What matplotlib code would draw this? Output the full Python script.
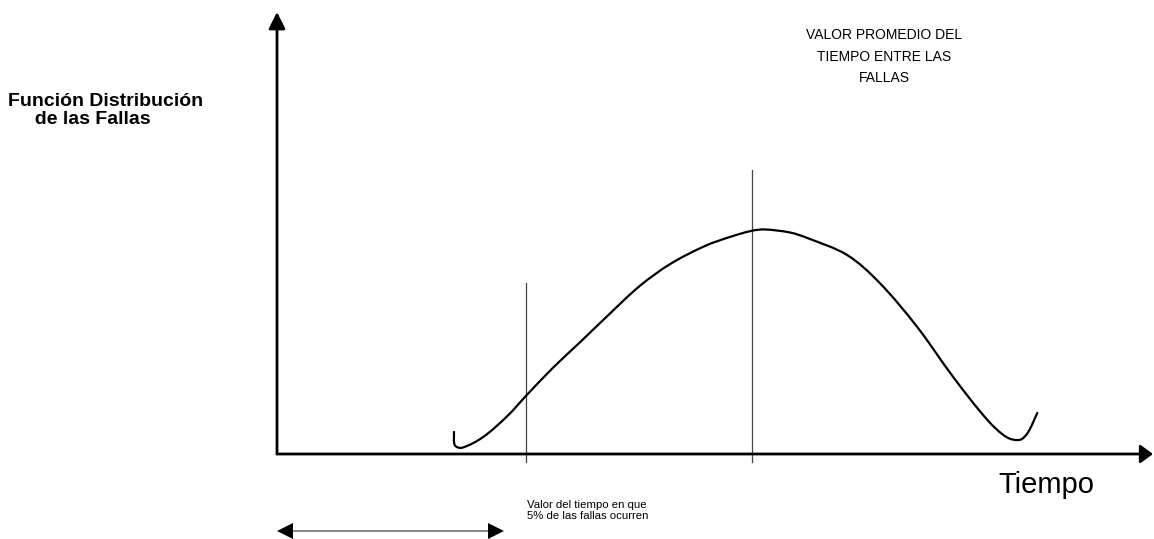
import matplotlib
matplotlib.use("Agg")
import matplotlib.pyplot as plt
import numpy as np
from matplotlib.lines import Line2D
from matplotlib.path import Path
from matplotlib.patches import PathPatch

# ---- data (time units 0..100, density units 0..100) ----
time_vals = [20.2, 20.3, 21.1, 23.5, 26.3, 28.4, 31.5, 34.6, 37.7, 41.4, 44.9,
             48.9, 51.7, 54.2, 55.7, 58.6, 60.5, 65.1, 68.8, 73.1, 77.2, 81.1,
             83.3, 84.8, 85.7, 86.8]
density_vals = [5.0, 2.0, 1.4, 3.8, 8.6, 13.1, 19.5, 25.3, 31.2, 38.0, 43.0,
                47.1, 49.1, 50.5, 50.8, 50.1, 48.9, 45.0, 38.7, 28.7, 17.4, 7.7,
                3.8, 3.2, 4.8, 9.3]
t_5pct = 28.4        # time at which 5% of failures occur
t_mean = 54.2        # mean time between failures
marker_top_5pct = 38.7
marker_top_mean = 64.3
marker_bottom = -1.8

ylabel_text = "Función Distribución\n     de las Fallas"
xlabel_text = "Tiempo"
mean_text = "VALOR PROMEDIO DEL\nTIEMPO ENTRE LAS\nFALLAS"
pct_text = "Valor del tiempo en que\n5% de las fallas ocurren"

plt.rcParams['font.family'] = ['Liberation Sans', 'DejaVu Sans']

W, H = 1154, 539
fig = plt.figure(figsize=(W / 100, H / 100), dpi=100)

x0, x1 = 277, 1153
y0, y1 = 454, 12
ax = fig.add_axes([x0 / W, (H - y0) / H, (x1 - x0) / W, (y0 - y1) / H])
ax.set_xlim(0, 100)
ax.set_ylim(0, 100)
ax.axis('off')

# axes arrows
ax.annotate('', xy=(0, 100), xytext=(0, 0), xycoords='data',
            arrowprops=dict(arrowstyle='-|>,head_length=1.0,head_width=0.5',
                            color='black', lw=2, shrinkA=0, shrinkB=0),
            annotation_clip=False)
ax.annotate('', xy=(100, 0), xytext=(0, 0), xycoords='data',
            arrowprops=dict(arrowstyle='-|>,head_length=0.75,head_width=0.55',
                            color='black', lw=2, shrinkA=0, shrinkB=0),
            annotation_clip=False)

# vertical markers
ax.plot([t_5pct, t_5pct], [marker_bottom, marker_top_5pct], color='#444444',
        lw=0.9, clip_on=False)
ax.plot([t_mean, t_mean], [marker_bottom, marker_top_mean], color='#444444',
        lw=0.9, clip_on=False)

# smooth curve through the read points (chord-length Catmull-Rom -> Bezier)
pts = ax.transData.transform(np.column_stack([time_vals, density_vals]))
n = len(pts)
seg = np.linalg.norm(np.diff(pts, axis=0), axis=1)
tpar = np.concatenate([[0], np.cumsum(seg)])
tang = np.zeros_like(pts)
for i in range(n):
    if i == 0:
        tang[i] = (pts[1] - pts[0]) / (tpar[1] - tpar[0])
    elif i == n - 1:
        tang[i] = (pts[-1] - pts[-2]) / (tpar[-1] - tpar[-2])
    else:
        tang[i] = (pts[i + 1] - pts[i - 1]) / (tpar[i + 1] - tpar[i - 1])
verts = [pts[0]]
codes = [Path.MOVETO]
for i in range(n - 1):
    h = tpar[i + 1] - tpar[i]
    verts += [pts[i] + tang[i] * h / 3.0, pts[i + 1] - tang[i + 1] * h / 3.0,
              pts[i + 1]]
    codes += [Path.CURVE4] * 3
patch = PathPatch(Path(verts, codes), facecolor='none', edgecolor='black',
                  lw=1.6, transform=None, clip_on=False, capstyle='round',
                  joinstyle='round')
fig.add_artist(patch)

# texts
fig.text(8 / W, 1 - 93 / H, ylabel_text, fontsize=14, fontweight='bold',
         ha='left', va='top', linespacing=1.05)
fig.text(884 / W, 1 - 28 / H, mean_text, fontsize=10, ha='center', va='top',
         linespacing=1.7)
fig.text(998 / W, 1 - 471 / H, xlabel_text, fontsize=21, ha='left', va='top')
fig.text(527 / W, 1 - 500 / H, pct_text, fontsize=8.2, ha='left', va='top',
         linespacing=1.15)

# double-headed arrow below
ya = 1 - 531 / H
fig.add_artist(Line2D([290 / W, 492 / W], [ya, ya], color='#777777', lw=1.2))
fig.add_artist(Line2D([285 / W], [ya], marker='<', markersize=11,
                      color='black', markeredgewidth=0))
fig.add_artist(Line2D([496 / W], [ya], marker='>', markersize=11,
                      color='black', markeredgewidth=0))

fig.savefig('out.png', dpi=100, facecolor='white')
